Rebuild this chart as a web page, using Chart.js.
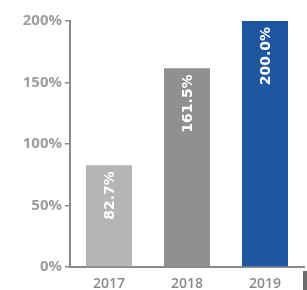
<!DOCTYPE html>
<html>
<head>
<meta charset="utf-8">
<script src="https://cdn.jsdelivr.net/npm/chart.js@4/dist/chart.umd.min.js"></script>
<style>
  html, body { margin: 0; padding: 0; background: #fff; }
  #wrap { position: relative; width: 307px; height: 290px; }
  #edge { position: absolute; left: 303px; top: 271px; width: 4px; height: 19px; background: #6b6b6b; }
</style>
</head>
<body>
<div id="wrap">
  <canvas id="growthChart" width="307" height="290"></canvas>
  <div id="edge"></div>
</div>
<script>
const years = ["2017", "2018", "2019"];
const growth = [82.7, 161.5, 200.0];
const barColors = ["#b4b5b7", "#8f9092", "#1f56a0"];
const yTicks = [0, 50, 100, 150, 200];

const axisGray = "#8a8a8a";
const tickFont = "'Open Sans', sans-serif";
const valueFont = "'DejaVu Sans', sans-serif";

// writes the value inside each bar, rotated, starting just under the top
const barLabels = {
    id: "barLabels",
    afterDatasetsDraw(chart) {
        const ctx = chart.ctx;
        const meta = chart.getDatasetMeta(0);
        ctx.save();
        ctx.fillStyle = "#ffffff";
        ctx.font = "bold 14px " + valueFont;
        ctx.textAlign = "right";
        ctx.textBaseline = "middle";
        meta.data.forEach((bar, i) => {
            ctx.save();
            ctx.translate(bar.x, bar.y + 6);
            ctx.rotate(-Math.PI / 2);
            ctx.fillText(growth[i].toFixed(1) + "%", 0, 1);
            ctx.restore();
        });
        ctx.restore();
    }
};

const ctx = document.getElementById("growthChart").getContext("2d");
new Chart(ctx, {
    type: "bar",
    data: {
        labels: years,
        datasets: [{
            data: growth,
            backgroundColor: barColors,
            borderWidth: 0,
            categoryPercentage: 1,
            barPercentage: 0.59
        }]
    },
    options: {
        responsive: false,
        animation: false,
        layout: { padding: { top: 21, right: 3, left: 0, bottom: 0 } },
        plugins: {
            legend: { display: false },
            tooltip: { enabled: false }
        },
        scales: {
            x: {
                grid: { display: false },
                border: { display: true, color: axisGray, width: 2 },
                ticks: {
                    color: axisGray,
                    padding: 1,
                    font: { family: tickFont, size: 14, weight: "600" }
                },
                afterFit(scale) { scale.height = 23; }
            },
            y: {
                min: 0,
                max: 200,
                afterBuildTicks(scale) {
                    scale.ticks = yTicks.map(v => ({ value: v }));
                },
                grid: {
                    display: true,
                    drawOnChartArea: false,
                    drawTicks: true,
                    tickLength: 5,
                    color: axisGray,
                    lineWidth: 1.5
                },
                border: { display: true, color: axisGray, width: 2 },
                ticks: {
                    color: "#9e9e9e",
                    padding: 3,
                    font: { family: tickFont, size: 15, weight: "bold" },
                    callback: v => v + "%"
                },
                afterFit(scale) { scale.width = 70; }
            }
        }
    },
    plugins: [barLabels]
});
</script>
</body>
</html>
